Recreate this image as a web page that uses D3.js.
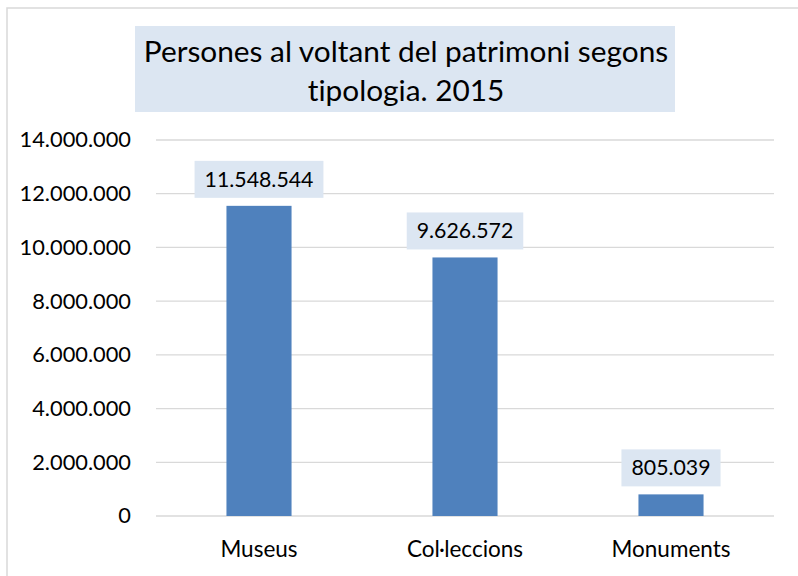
<!DOCTYPE html>
<html>
<head>
<meta charset="utf-8">
<script src="https://cdn.jsdelivr.net/npm/d3@7"></script>
<style>
  body { margin: 0; background: #fff; }
  svg { display: block; font-family: Lato, "Open Sans", sans-serif; font-variant-ligatures: none; }
</style>
</head>
<body>
<div id="chart"></div>
<script>
// data
const categories = ['Museus', 'Col·leccions', 'Monuments'];
const visitors = [11548544, 9626572, 805039];
const yTicks = [0, 2000000, 4000000, 6000000, 8000000, 10000000, 12000000, 14000000];
const titleLines = ['Persones al voltant del patrimoni segons', 'tipologia. 2015'];

const W = 798, H = 576;
const m = {top: 140, right: 24, bottom: 60, left: 156};

// dots as thousands separator, like the original
const fmt = d3.formatLocale({decimal: ',', thousands: '.', grouping: [3], currency: ['', '€']}).format(',d');

const svg = d3.select('#chart').append('svg').attr('width', W).attr('height', H);

// outer chart border
svg.append('rect')
  .attr('x', 7).attr('y', 8).attr('width', W + 10).attr('height', H + 10)
  .attr('fill', '#fff').attr('stroke', '#d9d9d9').attr('stroke-width', 1.5);

const x = d3.scaleBand().domain(categories).range([m.left, W - m.right])
  .paddingInner(0.684).paddingOuter(0.342);
const y = d3.scaleLinear().domain([0, 14000000]).range([516, m.top]);

// gridlines
svg.append('g').selectAll('line').data(yTicks).join('line')
  .attr('x1', m.left).attr('x2', W - m.right)
  .attr('y1', d => y(d)).attr('y2', d => y(d))
  .attr('stroke', '#d9d9d9').attr('stroke-width', 1.3);

// y axis labels
const yAxis = svg.append('g').attr('transform', `translate(${m.left - 25},0)`)
  .call(d3.axisLeft(y).tickValues(yTicks).tickFormat(fmt).tickSize(0).tickPadding(0));
yAxis.select('.domain').remove();
yAxis.selectAll('text').attr('font-size', 21.8).attr('fill', '#000')
  .attr('font-family', 'Lato, sans-serif');

// bars
svg.append('g').selectAll('rect').data(visitors).join('rect')
  .attr('x', (d, i) => x(categories[i]))
  .attr('y', d => y(d))
  .attr('width', x.bandwidth())
  .attr('height', d => y(0) - y(d))
  .attr('fill', '#4f81bd');

// data labels with light boxes
const lab = svg.append('g').selectAll('g').data(visitors).join('g')
  .attr('transform', (d, i) => `translate(${x(categories[i]) + x.bandwidth() / 2},${y(d) - 8})`);
lab.append('text')
  .attr('text-anchor', 'middle').attr('y', -11)
  .attr('font-size', 21.3).attr('fill', '#000')
  .text(d => fmt(d));
lab.each(function() {
  const g = d3.select(this);
  const bb = g.select('text').node().getBBox();
  g.insert('rect', 'text')
    .attr('x', bb.x - 10).attr('y', -37)
    .attr('width', bb.width + 20).attr('height', 37)
    .attr('fill', '#dce6f2');
});

// category labels
svg.append('g').selectAll('text').data(categories).join('text')
  .attr('x', d => x(d) + x.bandwidth() / 2).attr('y', 557)
  .attr('text-anchor', 'middle').attr('font-size', 22.5).attr('fill', '#000')
  .text(d => d);

// title box
svg.append('rect').attr('x', 135).attr('y', 26).attr('width', 540).attr('height', 86)
  .attr('fill', '#dce6f2');
svg.append('g').selectAll('text').data(titleLines).join('text')
  .attr('x', 406).attr('y', (d, i) => 62 + i * 39)
  .attr('text-anchor', 'middle').attr('font-size', 29.8).attr('fill', '#000')
  .text(d => d);
</script>
</body>
</html>
